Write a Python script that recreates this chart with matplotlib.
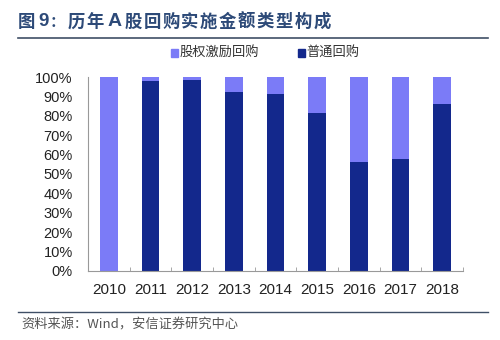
import matplotlib
matplotlib.use("Agg")
import matplotlib.pyplot as plt
from matplotlib.lines import Line2D
from matplotlib.patches import Rectangle

plt.rcParams['font.family'] = ['Noto Sans CJK SC', 'DejaVu Sans']

years = ['2010', '2011', '2012', '2013', '2014', '2015', '2016', '2017', '2018']
normal = [0.0, 98.2, 98.8, 92.6, 91.5, 81.7, 56.2, 57.8, 86.2]
equity = [100 - v for v in normal]
series_names = ['股权激励回购', '普通回购']
yticks = [0, 10, 20, 30, 40, 50, 60, 70, 80, 90, 100]
title_head = ['图', '9', '：']
title_body = '历年A股回购实施金额类型构成'
source = '资料来源：Wind，安信证券研究中心'

c_light = '#7B7BF7'
c_dark = '#13288C'

fig = plt.figure(figsize=(5.0, 3.4), dpi=100)
ax = fig.add_axes([88/500, 1-270.7/340, 375/500, 193.4/340])

x = list(range(len(years)))
ax.bar(x, normal, width=0.43, color=c_dark, label=series_names[1])
ax.bar(x, equity, width=0.43, bottom=normal, color=c_light, label=series_names[0])

tick_font = ['Liberation Sans', 'DejaVu Sans']
ax.set_xlim(-0.5, len(years) - 0.5)
ax.set_ylim(0, 100)
ax.set_yticks(yticks)
ax.set_yticklabels([f'{v}%' for v in yticks], fontsize=10.5, color='#222222', family=tick_font)
ax.set_xticks(x)
ax.set_xticklabels(years, fontsize=11, color='#222222', family=tick_font)
ax.set_xticks([i + 0.5 for i in range(-1, len(years))], minor=True)
ax.tick_params(axis='x', which='major', length=0, pad=9)
ax.tick_params(axis='x', which='minor', length=3, color='#999999', direction='in')
ax.tick_params(axis='y', length=0, pad=11)
for s in ['top', 'right']:
    ax.spines[s].set_visible(False)
for s in ['left', 'bottom']:
    ax.spines[s].set_color('#999999')
    ax.spines[s].set_linewidth(0.8)

# legend
fig.patches.append(Rectangle((171/500, 1-57/340), 7/500, 8/340, transform=fig.transFigure, color=c_light))
fig.text(180/500, 1-52/340, series_names[0], fontsize=9.5, va='center', ha='left', color='#333333')
fig.patches.append(Rectangle((298/500, 1-57/340), 7/500, 8/340, transform=fig.transFigure, color=c_dark))
fig.text(306/500, 1-52/340, series_names[1], fontsize=9.5, va='center', ha='left', color='#333333')

# title, spaced characters
tcol = '#2D4A78'
ty = 1 - 22/340
base = dict(fontsize=12.5, fontweight='bold', va='center', color=tcol)
fig.text(26.5/500, ty, title_head[0], ha='center', **base)
fig.text(43.5/500, ty, title_head[1], ha='center',
         **{**base, 'fontsize': 13.5, 'family': ['Liberation Sans', 'DejaVu Sans']})
fig.text(50/500, ty, title_head[2], ha='left', **{**base, 'fontsize': 11})
for i, ch in enumerate(title_body):
    px = 76.5 + 18.9 * i
    kw = dict(base)
    if ch == 'A':
        kw['family'] = ['Liberation Sans', 'DejaVu Sans']
        kw['fontsize'] = 14
    fig.text(px/500, ty, ch, ha='center', **kw)

fig.add_artist(Line2D([18/500, 488/500], [1-38/340, 1-38/340], transform=fig.transFigure,
                      color='#3F4F66', linewidth=1.2))
fig.add_artist(Line2D([18/500, 488/500], [1-312/340, 1-312/340], transform=fig.transFigure,
                      color='#3F4F66', linewidth=1.0))
fig.text(21/500, 1-325/340, source, fontsize=9.5, style='italic',
         va='center', ha='left', color='#555555')

fig.savefig('out.png', dpi=100)
